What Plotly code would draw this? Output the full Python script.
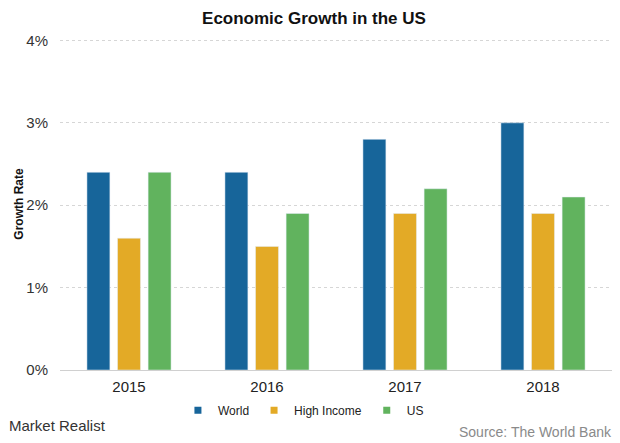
import plotly.graph_objects as go

categories = ["2015", "2016", "2017", "2018"]
world = [2.4, 2.4, 2.8, 3.0]
high_income = [1.6, 1.5, 1.9, 1.9]
us = [2.4, 1.9, 2.2, 2.1]
tick_vals = [0, 1, 2, 3, 4]
tick_text = ["0%", "1%", "2%", "3%", "4%"]
series_names = ["World", "High Income", "US"]
series_colors = ["#17659a", "#e3aa26", "#61b35e"]

fig = go.Figure()
for name, vals, col in zip(series_names, [world, high_income, us], series_colors):
    fig.add_trace(go.Bar(x=categories, y=vals, name=name, marker_color=col, showlegend=False))
for name, col in zip(series_names, series_colors):
    fig.add_trace(go.Scatter(x=[None], y=[None], mode="markers", name=name,
                             marker=dict(symbol="square", size=7, color=col)))

# page body adds 8px margin, so the figure is sized/offset to compensate
fig.update_layout(
    width=612, height=435,
    margin=dict(l=52, r=8, t=30, b=73),
    paper_bgcolor="white", plot_bgcolor="white",
    font=dict(family="Liberation Sans, Arial", color="#222"),
    title=dict(text="<b>Economic Growth in the US</b>", x=0.5, xanchor="center", xref="container",
               y=0.977, yanchor="middle", font=dict(size=17, color="#111")),
    barmode="group", bargap=0.335, bargroupgap=0.25,
    showlegend=True,
    legend=dict(orientation="h", x=0.441, xanchor="center", y=-0.1216, yanchor="middle",
                font=dict(size=12, color="#222"), traceorder="normal"),
    xaxis=dict(showline=False, ticks="", tickfont=dict(size=15, color="#222"),
               ticklabelstandoff=6),
    yaxis=dict(range=[0, 4.03], tickvals=tick_vals, ticktext=tick_text,
               tickfont=dict(size=15, color="#333"),
               showgrid=True, gridcolor="#d6d6d6", griddash="3px,3px", gridwidth=1,
               zeroline=True, zerolinecolor="#d0d0d0", zerolinewidth=1,
               ticks="", ticklabelstandoff=11,
               title=dict(text="<b>Growth Rate</b>", font=dict(size=12, color="#111"), standoff=0)),
)

fig.add_annotation(text="Market Realist", xref="paper", yref="paper", x=-0.096, y=-0.167,
                   xanchor="left", yanchor="middle", showarrow=False,
                   font=dict(size=15, color="#333", family="Liberation Sans, Arial"))
fig.add_annotation(text="Source: The World Bank", xref="paper", yref="paper", x=1.0045, y=-0.188,
                   xanchor="right", yanchor="middle", showarrow=False,
                   font=dict(size=14, color="#8a8a8a"))

fig.write_html("out.html")
